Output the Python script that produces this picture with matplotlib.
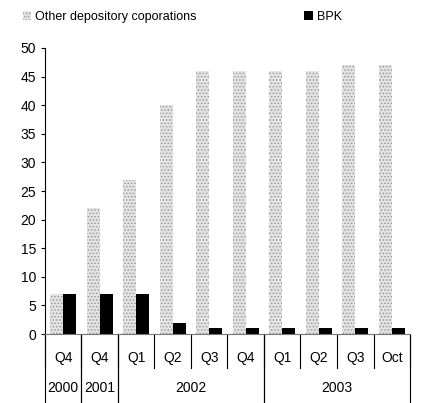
import numpy as np
from matplotlib import pyplot as plt

quarters = ['Q4', 'Q4', 'Q1', 'Q2', 'Q3', 'Q4', 'Q1', 'Q2', 'Q3', 'Oct']
years = [('2000', 0, 1), ('2001', 1, 2), ('2002', 2, 6), ('2003', 6, 10)]
other = [7, 22, 27, 40, 46, 46, 46, 46, 47, 47]
bpk = [7, 7, 7, 2, 1, 1, 1, 1, 1, 1]

plt.rcParams['font.family'] = ['Liberation Sans', 'DejaVu Sans']
plt.rcParams['hatch.color'] = '#666666'
plt.rcParams['hatch.linewidth'] = 0.7

fig = plt.figure(figsize=(4.24, 4.03), dpi=100)
ax = fig.add_axes([0.106, 0.171, 0.861, 0.71])
x = np.arange(len(quarters))
w = 0.36
ax.bar(x - w / 2, other, w, color='#e4e4e4', hatch='.....', edgecolor='#999999',
       linewidth=0, label='Other depository coporations')
ax.bar(x + w / 2, bpk, w, color='black', label='BPK')
ax.set_xlim(-0.5, len(quarters) - 0.5)
ax.set_ylim(0, 50)
ax.set_yticks(range(0, 51, 5))
ax.tick_params(axis='y', labelsize=10, length=3)
ax.set_xticks([])
for s in ['top', 'right']:
    ax.spines[s].set_visible(False)
ax.spines['bottom'].set_color('#777777')

tr = ax.get_xaxis_transform()
for i, q in enumerate(quarters):
    ax.text(i, -0.085, q, transform=tr, ha='center', va='center', fontsize=10)
for i in range(len(quarters) + 1):
    ax.plot([i - 0.5, i - 0.5], [0, -0.12], transform=tr, color='black', lw=0.8, clip_on=False)
for name, a, b in years:
    ax.text((a + b) / 2 - 0.5, -0.19, name, transform=tr, ha='center', va='center', fontsize=10)
    for e in (a, b):
        ax.plot([e - 0.5, e - 0.5], [0, -0.24], transform=tr, color='black', lw=0.8, clip_on=False)

ax.legend(loc='lower left', bbox_to_anchor=(-0.075, 1.07), ncol=2, frameon=False,
          fontsize=9, handlelength=0.7, handleheight=0.7, columnspacing=8.6, handletextpad=0.3,
          borderaxespad=0)
fig.savefig('out.png')
